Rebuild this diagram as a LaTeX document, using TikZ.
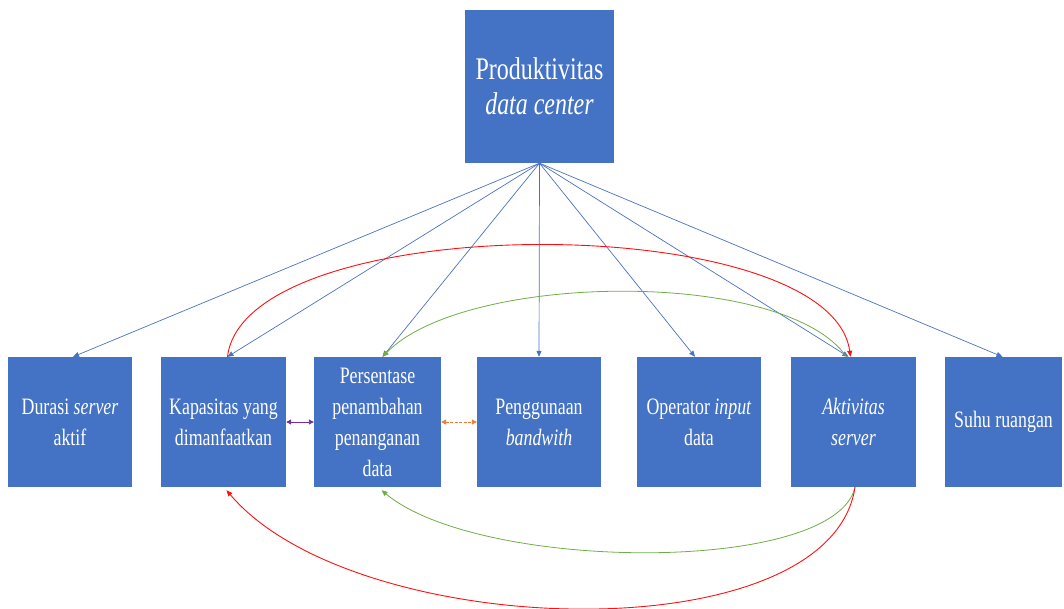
\documentclass[tikz,border=0pt]{standalone}
\usepackage{fontspec}
\setmainfont{Liberation Serif}[FakeStretch=0.76]
\usetikzlibrary{arrows.meta,calc}
\definecolor{boxblue}{HTML}{4472C4}
\definecolor{lineblue}{HTML}{4A72C0}
\definecolor{redc}{HTML}{FF1010}
\definecolor{greenc}{HTML}{70AD47}
\definecolor{purplec}{HTML}{7030A0}
\definecolor{orangec}{HTML}{ED7D31}
\begin{document}
\begin{tikzpicture}[x=1pt,y=-1pt,
  box/.style={fill=boxblue, text=white, inner sep=0pt, minimum width=125pt,
    minimum height=130pt, align=center, font=\fontsize{23.5}{31}\selectfont},
  topbox/.style={fill=boxblue, text=white, inner sep=0pt, minimum width=149pt,
    minimum height=153pt, align=center, font=\fontsize{31.5}{35}\selectfont},
  tip/.style={-{Triangle[length=6pt,width=5pt]}},
  conn/.style={lineblue, line width=0.7pt, tip},
  redarc/.style={redc, line width=0.9pt, tip},
  greenarc/.style={greenc, line width=0.8pt, tip},
  link/.style={line width=0.9pt, {Triangle[length=5pt,width=5pt]}-{Triangle[length=5pt,width=5pt]}}
]
\useasboundingbox (0,0) rectangle (1064,609);

\node[topbox] (top) at (539.5,86.5) {Produktivitas\\\textit{data center}};

\node[box, minimum width=124pt] (b1) at (70,422) {Durasi \textit{server}\\aktif};
\node[box] (b2) at (223.5,422) {Kapasitas yang\\dimanfaatkan};
\node[box, minimum width=127pt] (b3) at (377.5,422) {Persentase\\penambahan\\penanganan\\data};
\node[box, minimum width=124pt] (b4) at (539,422) {Penggunaan\\\textit{bandwith}};
\node[box, minimum width=124pt] (b5) at (699,422) {Operator \textit{input}\\data};
\node[box] (b6) at (853.5,422) {\textit{Aktivitas}\\\textit{server}};
\node[box, minimum width=117pt] (b7) at (1003.5,422) {Suhu ruangan};

\coordinate (o) at (top.south);
\draw[conn] (o) -- ($(b1.north)+(3,0)$);
\draw[conn] (o) -- ($(b2.north)+(4,0)$);
\draw[conn] (o) -- ($(b3.north)+(5,0)$);
\draw[conn] (o) -- (b4.north);
\draw[conn] (o) -- ($(b5.north)+(-4,0)$);
\draw[conn] (o) -- ($(b6.north)+(-5,0)$);
\draw[conn] (o) -- ($(b7.north)+(-1,0)$);

% top arcs
\draw[redarc] ($(b2.north)+(4,0)$) .. controls (245,208) and (830,208) .. ($(b6.north)+(-3,0)$);
\draw[greenarc] ($(b6.north)+(-7,0)$) .. controls (785,268) and (465,272) .. ($(b3.north)+(5,0)$);

% bottom arcs
\draw[greenarc] ($(b6.south)+(1.5,0)$) .. controls (835,575) and (480,572) .. ($(b3.south)+(4,3)$);
\draw[redarc] ($(b6.south)+(1.5,0)$) .. controls (830,655) and (355,642) .. ($(b2.south)+(3,3)$);

% side links
\draw[link, purplec] (b2.east) -- (b3.west);
\draw[link, orangec, dash pattern=on 3pt off 1.5pt] (b3.east) -- (b4.west);
\end{tikzpicture}
\end{document}
